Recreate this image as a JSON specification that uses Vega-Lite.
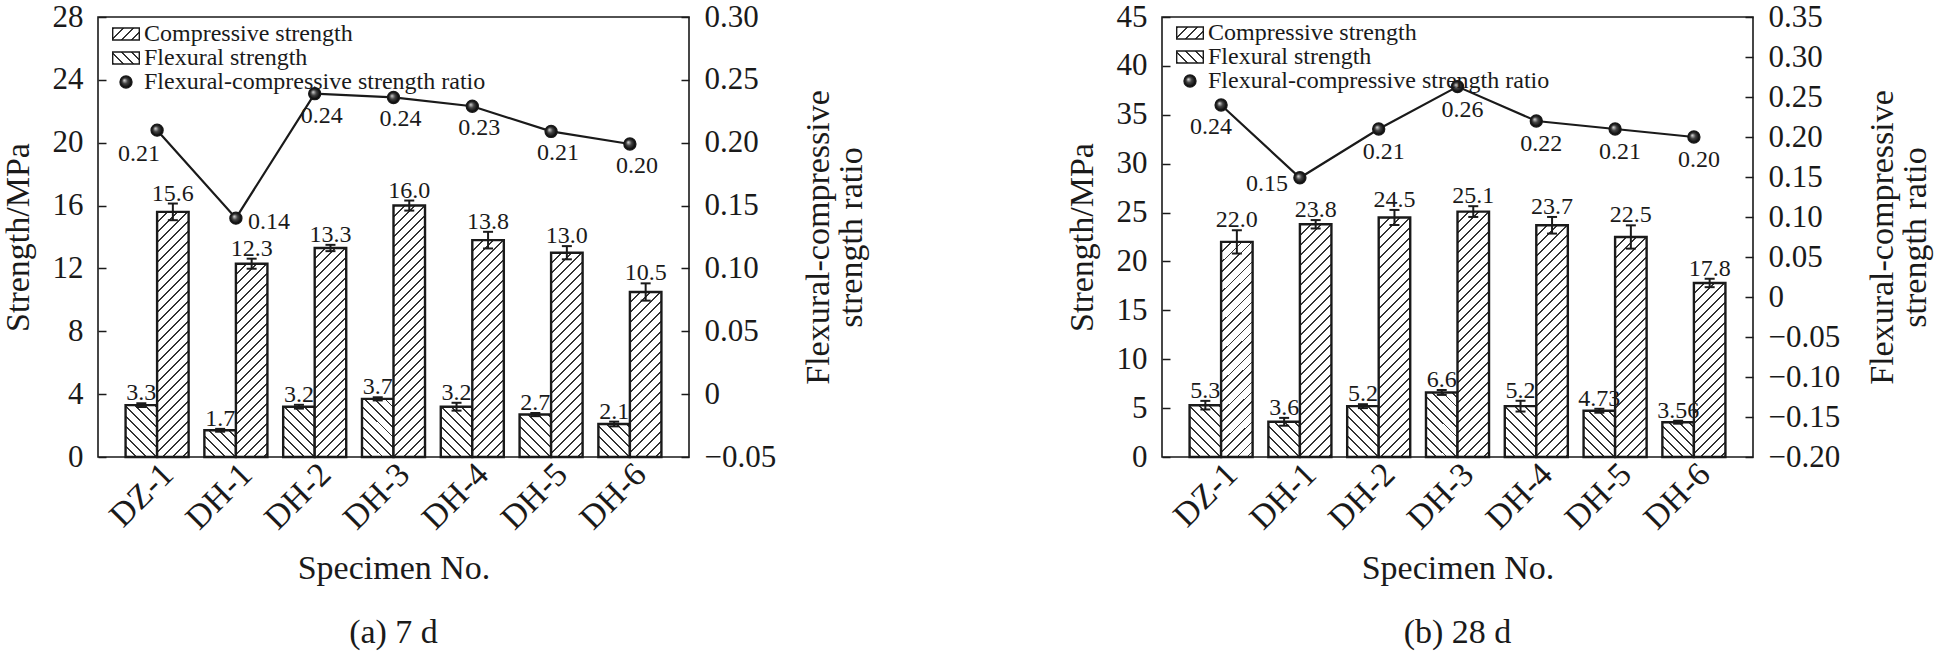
{
  "$schema": "https://vega.github.io/schema/vega-lite/v6.json",
  "padding": {"left": 0, "top": 0, "right": 0, "bottom": 0},
  "params": [
    {"name": "hatch", "value": [
      {"offset":0,"color":"#333333"},{"offset":0.0065,"color":"#333333"},{"offset":0.0065,"color":"#ffffff"},{"offset":0.0333,"color":"#ffffff"},
      {"offset":0.0333,"color":"#333333"},{"offset":0.0398,"color":"#333333"},{"offset":0.0398,"color":"#ffffff"},{"offset":0.0667,"color":"#ffffff"},
      {"offset":0.0667,"color":"#333333"},{"offset":0.0732,"color":"#333333"},{"offset":0.0732,"color":"#ffffff"},{"offset":0.1,"color":"#ffffff"},
      {"offset":0.1,"color":"#333333"},{"offset":0.1065,"color":"#333333"},{"offset":0.1065,"color":"#ffffff"},{"offset":0.1333,"color":"#ffffff"},
      {"offset":0.1333,"color":"#333333"},{"offset":0.1398,"color":"#333333"},{"offset":0.1398,"color":"#ffffff"},{"offset":0.1667,"color":"#ffffff"},
      {"offset":0.1667,"color":"#333333"},{"offset":0.1732,"color":"#333333"},{"offset":0.1732,"color":"#ffffff"},{"offset":0.2,"color":"#ffffff"},
      {"offset":0.2,"color":"#333333"},{"offset":0.2065,"color":"#333333"},{"offset":0.2065,"color":"#ffffff"},{"offset":0.2333,"color":"#ffffff"},
      {"offset":0.2333,"color":"#333333"},{"offset":0.2398,"color":"#333333"},{"offset":0.2398,"color":"#ffffff"},{"offset":0.2667,"color":"#ffffff"},
      {"offset":0.2667,"color":"#333333"},{"offset":0.2732,"color":"#333333"},{"offset":0.2732,"color":"#ffffff"},{"offset":0.3,"color":"#ffffff"},
      {"offset":0.3,"color":"#333333"},{"offset":0.3065,"color":"#333333"},{"offset":0.3065,"color":"#ffffff"},{"offset":0.3333,"color":"#ffffff"},
      {"offset":0.3333,"color":"#333333"},{"offset":0.3398,"color":"#333333"},{"offset":0.3398,"color":"#ffffff"},{"offset":0.3667,"color":"#ffffff"},
      {"offset":0.3667,"color":"#333333"},{"offset":0.3732,"color":"#333333"},{"offset":0.3732,"color":"#ffffff"},{"offset":0.4,"color":"#ffffff"},
      {"offset":0.4,"color":"#333333"},{"offset":0.4065,"color":"#333333"},{"offset":0.4065,"color":"#ffffff"},{"offset":0.4333,"color":"#ffffff"},
      {"offset":0.4333,"color":"#333333"},{"offset":0.4398,"color":"#333333"},{"offset":0.4398,"color":"#ffffff"},{"offset":0.4667,"color":"#ffffff"},
      {"offset":0.4667,"color":"#333333"},{"offset":0.4732,"color":"#333333"},{"offset":0.4732,"color":"#ffffff"},{"offset":0.5,"color":"#ffffff"},
      {"offset":0.5,"color":"#333333"},{"offset":0.5065,"color":"#333333"},{"offset":0.5065,"color":"#ffffff"},{"offset":0.5333,"color":"#ffffff"},
      {"offset":0.5333,"color":"#333333"},{"offset":0.5398,"color":"#333333"},{"offset":0.5398,"color":"#ffffff"},{"offset":0.5667,"color":"#ffffff"},
      {"offset":0.5667,"color":"#333333"},{"offset":0.5732,"color":"#333333"},{"offset":0.5732,"color":"#ffffff"},{"offset":0.6,"color":"#ffffff"},
      {"offset":0.6,"color":"#333333"},{"offset":0.6065,"color":"#333333"},{"offset":0.6065,"color":"#ffffff"},{"offset":0.6333,"color":"#ffffff"},
      {"offset":0.6333,"color":"#333333"},{"offset":0.6398,"color":"#333333"},{"offset":0.6398,"color":"#ffffff"},{"offset":0.6667,"color":"#ffffff"},
      {"offset":0.6667,"color":"#333333"},{"offset":0.6732,"color":"#333333"},{"offset":0.6732,"color":"#ffffff"},{"offset":0.7,"color":"#ffffff"},
      {"offset":0.7,"color":"#333333"},{"offset":0.7065,"color":"#333333"},{"offset":0.7065,"color":"#ffffff"},{"offset":0.7333,"color":"#ffffff"},
      {"offset":0.7333,"color":"#333333"},{"offset":0.7398,"color":"#333333"},{"offset":0.7398,"color":"#ffffff"},{"offset":0.7667,"color":"#ffffff"},
      {"offset":0.7667,"color":"#333333"},{"offset":0.7732,"color":"#333333"},{"offset":0.7732,"color":"#ffffff"},{"offset":0.8,"color":"#ffffff"},
      {"offset":0.8,"color":"#333333"},{"offset":0.8065,"color":"#333333"},{"offset":0.8065,"color":"#ffffff"},{"offset":0.8333,"color":"#ffffff"},
      {"offset":0.8333,"color":"#333333"},{"offset":0.8398,"color":"#333333"},{"offset":0.8398,"color":"#ffffff"},{"offset":0.8667,"color":"#ffffff"},
      {"offset":0.8667,"color":"#333333"},{"offset":0.8732,"color":"#333333"},{"offset":0.8732,"color":"#ffffff"},{"offset":0.9,"color":"#ffffff"},
      {"offset":0.9,"color":"#333333"},{"offset":0.9065,"color":"#333333"},{"offset":0.9065,"color":"#ffffff"},{"offset":0.9333,"color":"#ffffff"},
      {"offset":0.9333,"color":"#333333"},{"offset":0.9398,"color":"#333333"},{"offset":0.9398,"color":"#ffffff"},{"offset":0.9667,"color":"#ffffff"},
      {"offset":0.9667,"color":"#333333"},{"offset":0.9732,"color":"#333333"},{"offset":0.9732,"color":"#ffffff"},{"offset":1,"color":"#ffffff"}
    ]},
    {"name": "ball", "value": {"gradient": "radial", "x1": 0.35, "y1": 0.35, "r1": 0, "x2": 0.5, "y2": 0.5, "r2": 0.5,
      "stops": [{"offset": 0, "color": "#dddddd"}, {"offset": 0.45, "color": "#444444"}, {"offset": 1, "color": "#000000"}]}}
  ],
  "datasets": {
    "bars7": [
      {"specimen": "DZ-1", "type": "Flexural", "value": 3.3, "lo": 3.18, "hi": 3.42, "txt": "3.3"},
      {"specimen": "DZ-1", "type": "Compressive", "value": 15.6, "lo": 15.07, "hi": 16.13, "txt": "15.6"},
      {"specimen": "DH-1", "type": "Flexural", "value": 1.7, "lo": 1.61, "hi": 1.79, "txt": "1.7"},
      {"specimen": "DH-1", "type": "Compressive", "value": 12.3, "lo": 11.98, "hi": 12.62, "txt": "12.3"},
      {"specimen": "DH-2", "type": "Flexural", "value": 3.2, "lo": 3.08, "hi": 3.32, "txt": "3.2"},
      {"specimen": "DH-2", "type": "Compressive", "value": 13.3, "lo": 13.1, "hi": 13.5, "txt": "13.3"},
      {"specimen": "DH-3", "type": "Flexural", "value": 3.7, "lo": 3.6, "hi": 3.8, "txt": "3.7"},
      {"specimen": "DH-3", "type": "Compressive", "value": 16.0, "lo": 15.68, "hi": 16.32, "txt": "16.0"},
      {"specimen": "DH-4", "type": "Flexural", "value": 3.2, "lo": 2.95, "hi": 3.45, "txt": "3.2"},
      {"specimen": "DH-4", "type": "Compressive", "value": 13.8, "lo": 13.27, "hi": 14.33, "txt": "13.8"},
      {"specimen": "DH-5", "type": "Flexural", "value": 2.7, "lo": 2.6, "hi": 2.8, "txt": "2.7"},
      {"specimen": "DH-5", "type": "Compressive", "value": 13.0, "lo": 12.58, "hi": 13.42, "txt": "13.0"},
      {"specimen": "DH-6", "type": "Flexural", "value": 2.1, "lo": 1.95, "hi": 2.25, "txt": "2.1"},
      {"specimen": "DH-6", "type": "Compressive", "value": 10.5, "lo": 9.95, "hi": 11.05, "txt": "10.5"}
    ],
    "ratio7": [
      {"specimen": "DZ-1", "ratio": 0.21, "series": "Flexural-compressive strength ratio"},
      {"specimen": "DH-1", "ratio": 0.14, "series": "Flexural-compressive strength ratio"},
      {"specimen": "DH-2", "ratio": 0.239, "series": "Flexural-compressive strength ratio"},
      {"specimen": "DH-3", "ratio": 0.236, "series": "Flexural-compressive strength ratio"},
      {"specimen": "DH-4", "ratio": 0.229, "series": "Flexural-compressive strength ratio"},
      {"specimen": "DH-5", "ratio": 0.209, "series": "Flexural-compressive strength ratio"},
      {"specimen": "DH-6", "ratio": 0.199, "series": "Flexural-compressive strength ratio"}
    ],
    "bars28": [
      {"specimen": "DZ-1", "type": "Flexural", "value": 5.3, "lo": 4.86, "hi": 5.74, "txt": "5.3"},
      {"specimen": "DZ-1", "type": "Compressive", "value": 22.0, "lo": 20.81, "hi": 23.19, "txt": "22.0"},
      {"specimen": "DH-1", "type": "Flexural", "value": 3.6, "lo": 3.2, "hi": 4.0, "txt": "3.6"},
      {"specimen": "DH-1", "type": "Compressive", "value": 23.8, "lo": 23.37, "hi": 24.23, "txt": "23.8"},
      {"specimen": "DH-2", "type": "Flexural", "value": 5.2, "lo": 5.0, "hi": 5.4, "txt": "5.2"},
      {"specimen": "DH-2", "type": "Compressive", "value": 24.5, "lo": 23.73, "hi": 25.27, "txt": "24.5"},
      {"specimen": "DH-3", "type": "Flexural", "value": 6.6, "lo": 6.35, "hi": 6.85, "txt": "6.6"},
      {"specimen": "DH-3", "type": "Compressive", "value": 25.1, "lo": 24.55, "hi": 25.65, "txt": "25.1"},
      {"specimen": "DH-4", "type": "Flexural", "value": 5.2, "lo": 4.65, "hi": 5.75, "txt": "5.2"},
      {"specimen": "DH-4", "type": "Compressive", "value": 23.7, "lo": 22.85, "hi": 24.55, "txt": "23.7"},
      {"specimen": "DH-5", "type": "Flexural", "value": 4.73, "lo": 4.53, "hi": 4.93, "txt": "4.73"},
      {"specimen": "DH-5", "type": "Compressive", "value": 22.5, "lo": 21.31, "hi": 23.69, "txt": "22.5"},
      {"specimen": "DH-6", "type": "Flexural", "value": 3.56, "lo": 3.41, "hi": 3.71, "txt": "3.56"},
      {"specimen": "DH-6", "type": "Compressive", "value": 17.8, "lo": 17.37, "hi": 18.23, "txt": "17.8"}
    ],
    "ratio28": [
      {"specimen": "DZ-1", "ratio": 0.24, "series": "Flexural-compressive strength ratio"},
      {"specimen": "DH-1", "ratio": 0.149, "series": "Flexural-compressive strength ratio"},
      {"specimen": "DH-2", "ratio": 0.21, "series": "Flexural-compressive strength ratio"},
      {"specimen": "DH-3", "ratio": 0.263, "series": "Flexural-compressive strength ratio"},
      {"specimen": "DH-4", "ratio": 0.22, "series": "Flexural-compressive strength ratio"},
      {"specimen": "DH-5", "ratio": 0.21, "series": "Flexural-compressive strength ratio"},
      {"specimen": "DH-6", "ratio": 0.20, "series": "Flexural-compressive strength ratio"}
    ]
  },
  "bounds": "flush",
  "spacing": 473,
  "resolve": {"scale": {"shape": "independent", "fill": "independent", "stroke": "independent"}, "legend": {"shape": "independent", "fill": "independent", "stroke": "independent"}},
  "hconcat": [
    {
      "width": 591,
      "height": 440,
      "title": {"text": "(a) 7 d", "orient": "bottom", "anchor": "middle", "offset": 30},
      "resolve": {"scale": {"y": "independent"}},
      "layer": [
        {
          "data": {"name": "bars7"},
          "encoding": {
            "x": {"field": "specimen", "type": "nominal", "sort": ["DZ-1","DH-1","DH-2","DH-3","DH-4","DH-5","DH-6"],
              "scale": {"paddingInner": 0.2, "paddingOuter": 0.35},
              "axis": {"title": "Specimen No.", "labelAngle": -45, "labelAlign": "right", "labelBaseline": "middle", "labelOffset": 11, "labelPadding": 12, "ticks": false, "labelFontSize": 34, "titleFontSize": 34, "titlePadding": 16}},
            "xOffset": {"field": "type", "type": "nominal", "sort": ["Flexural", "Compressive"], "scale": {"paddingInner": 0, "paddingOuter": 0}}
          },
          "layer": [
            {
              "mark": {"type": "bar", "stroke": "#1a1a1a", "strokeWidth": 2.4, "fillOpacity": 1,
                "fill": {"expr": "datum.type == 'Compressive' ? {gradient: 'linear', x1: 0, y1: 0, x2: 9450 / (992.25 + pow(15.714 * datum.value, 2)), y2: 4714.2 * datum.value / (992.25 + pow(15.714 * datum.value, 2)), stops: hatch} : {gradient: 'linear', x1: 0, y1: 1, x2: 9450 / (992.25 + pow(15.714 * datum.value, 2)), y2: 1 - 4714.2 * datum.value / (992.25 + pow(15.714 * datum.value, 2)), stops: hatch}"}},
              "encoding": {
                "y": {"field": "value", "type": "quantitative", "title": "Strength/MPa",
                  "scale": {"domain": [0, 28], "nice": false, "zero": true},
                  "axis": {"title": "Strength/MPa", "values": [0,4,8,12,16,20,24,28], "tickSize": -8, "labelPadding": 23, "labelFontSize": 31, "titleFontSize": 34, "titlePadding": 17}}
              }
            },
            {
              "mark": {"type": "rule", "strokeWidth": 2, "color": "#1a1a1a"},
              "encoding": {
                "y": {"field": "lo", "type": "quantitative", "title": "Strength/MPa"},
                "y2": {"field": "hi"}
              }
            },
            {
              "mark": {"type": "tick", "size": 10, "thickness": 2, "color": "#1a1a1a", "opacity": 1},
              "encoding": {"y": {"field": "lo", "type": "quantitative", "title": "Strength/MPa"}}
            },
            {
              "mark": {"type": "tick", "size": 10, "thickness": 2, "color": "#1a1a1a", "opacity": 1},
              "encoding": {"y": {"field": "hi", "type": "quantitative", "title": "Strength/MPa"}}
            },
            {
              "mark": {"type": "text", "baseline": "alphabetic", "dy": -3, "fontSize": 24, "color": "#1a1a1a"},
              "encoding": {
                "y": {"field": "hi", "type": "quantitative", "title": "Strength/MPa"},
                "text": {"field": "txt"}
              }
            }
          ]
        },
        {
          "data": {"name": "ratio7"},
          "encoding": {
            "x": {"field": "specimen", "type": "nominal", "sort": ["DZ-1","DH-1","DH-2","DH-3","DH-4","DH-5","DH-6"],
              "scale": {"paddingInner": 0.2, "paddingOuter": 0.35},
              "axis": {"title": "Specimen No.", "labelAngle": -45, "labelAlign": "right", "labelBaseline": "middle", "labelOffset": 11, "labelPadding": 12, "ticks": false, "labelFontSize": 34, "titleFontSize": 34, "titlePadding": 16}},
            "y": {"field": "ratio", "type": "quantitative", "title": "Flexural-compressive strength ratio",
              "scale": {"domain": [-0.05, 0.3], "nice": false, "zero": false},
              "axis": {"orient": "right", "values": [-0.05, 0, 0.05, 0.1, 0.15, 0.2, 0.25, 0.3], "labelExpr": "datum.value == 0 ? '0' : format(datum.value, '.2f')",
                "tickSize": -8, "labelPadding": 23, "labelFontSize": 31, "title": ["Flexural-compressive", "strength ratio"], "titleAngle": -90, "titleBaseline": "top", "titleFontSize": 34, "titleLineHeight": 33, "titlePadding": -7}}
          },
          "layer": [
            {"mark": {"type": "line", "color": "#1a1a1a", "strokeWidth": 2.2}},
            {
              "mark": {"type": "point", "filled": true, "size": 361, "strokeWidth": 1.4, "opacity": 1},
              "encoding": {
                "fill": {"field": "series", "type": "nominal",
                  "scale": {"domain": ["Compressive strength", "Flexural strength", "Flexural-compressive strength ratio"],
                    "range": [{"expr": "{gradient: 'linear', x1: 0, y1: 0, x2: 9.37, y2: 4.227, stops: hatch}"}, {"expr": "{gradient: 'linear', x1: 0, y1: 1, x2: 9.37, y2: -3.227, stops: hatch}"}, {"expr": "ball"}]},
                  "legend": {"title": null, "orient": "none", "legendX": 16, "legendY": 5, "padding": 0, "labelFontSize": 24, "labelLimit": 0, "labelColor": "#1a1a1a", "symbolSize": 361, "rowPadding": 0, "labelOffset": 6}},
                "stroke": {"field": "series", "type": "nominal",
                  "scale": {"domain": ["Compressive strength", "Flexural strength", "Flexural-compressive strength ratio"], "range": ["#1a1a1a", "#1a1a1a", "#1a1a1a"]},
                  "legend": {"title": null, "orient": "none", "legendX": 16, "legendY": 5, "padding": 0, "labelFontSize": 24, "labelLimit": 0, "labelColor": "#1a1a1a", "symbolSize": 361, "rowPadding": 0, "labelOffset": 6}},
                "shape": {"field": "series", "type": "nominal",
                  "scale": {"domain": ["Compressive strength", "Flexural strength", "Flexural-compressive strength ratio"],
                    "range": ["M-1.4,-0.63H1.4V0.63H-1.4Z", "M-1.4,-0.63H1.4V0.63H-1.4Z", "M-0.63,0A0.63,0.63 0 1,0 0.63,0A0.63,0.63 0 1,0 -0.63,0Z"]},
                  "legend": {"title": null, "orient": "none", "legendX": 16, "legendY": 5, "padding": 0, "labelFontSize": 24, "labelLimit": 0, "labelColor": "#1a1a1a", "symbolSize": 361, "rowPadding": 0, "labelOffset": 6}}
              }
            },
            {
              "transform": [{"filter": {"field": "specimen", "oneOf": ["DH-2", "DH-3", "DH-4", "DH-5", "DH-6"]}}],
              "mark": {"type": "text", "dx": 7, "dy": 22, "fontSize": 24, "color": "#1a1a1a"},
              "encoding": {"text": {"field": "ratio", "format": ".2f"}}
            },
            {
              "transform": [{"filter": {"field": "specimen", "equal": "DZ-1"}}],
              "mark": {"type": "text", "dx": -18, "dy": 24, "fontSize": 24, "color": "#1a1a1a"},
              "encoding": {"text": {"field": "ratio", "format": ".2f"}}
            },
            {
              "transform": [{"filter": {"field": "specimen", "equal": "DH-1"}}],
              "mark": {"type": "text", "dx": 33, "dy": 4, "fontSize": 24, "color": "#1a1a1a"},
              "encoding": {"text": {"field": "ratio", "format": ".2f"}}
            }
          ]
        }
      ]
    },
    {
      "width": 591,
      "height": 440,
      "title": {"text": "(b) 28 d", "orient": "bottom", "anchor": "middle", "offset": 30},
      "resolve": {"scale": {"y": "independent"}},
      "layer": [
        {
          "data": {"name": "bars28"},
          "encoding": {
            "x": {"field": "specimen", "type": "nominal", "sort": ["DZ-1","DH-1","DH-2","DH-3","DH-4","DH-5","DH-6"],
              "scale": {"paddingInner": 0.2, "paddingOuter": 0.35},
              "axis": {"title": "Specimen No.", "labelAngle": -45, "labelAlign": "right", "labelBaseline": "middle", "labelOffset": 11, "labelPadding": 12, "ticks": false, "labelFontSize": 34, "titleFontSize": 34, "titlePadding": 16}},
            "xOffset": {"field": "type", "type": "nominal", "sort": ["Flexural", "Compressive"], "scale": {"paddingInner": 0, "paddingOuter": 0}}
          },
          "layer": [
            {
              "mark": {"type": "bar", "stroke": "#1a1a1a", "strokeWidth": 2.4, "fillOpacity": 1,
                "fill": {"expr": "datum.type == 'Compressive' ? {gradient: 'linear', x1: 0, y1: 0, x2: 9450 / (992.25 + pow(9.778 * datum.value, 2)), y2: 2933.4 * datum.value / (992.25 + pow(9.778 * datum.value, 2)), stops: hatch} : {gradient: 'linear', x1: 0, y1: 1, x2: 9450 / (992.25 + pow(9.778 * datum.value, 2)), y2: 1 - 2933.4 * datum.value / (992.25 + pow(9.778 * datum.value, 2)), stops: hatch}"}},
              "encoding": {
                "y": {"field": "value", "type": "quantitative", "title": "Strength/MPa",
                  "scale": {"domain": [0, 45], "nice": false, "zero": true},
                  "axis": {"title": "Strength/MPa", "values": [0,5,10,15,20,25,30,35,40,45], "tickSize": -8, "labelPadding": 23, "labelFontSize": 31, "titleFontSize": 34, "titlePadding": 17}}
              }
            },
            {
              "mark": {"type": "rule", "strokeWidth": 2, "color": "#1a1a1a"},
              "encoding": {
                "y": {"field": "lo", "type": "quantitative", "title": "Strength/MPa"},
                "y2": {"field": "hi"}
              }
            },
            {
              "mark": {"type": "tick", "size": 10, "thickness": 2, "color": "#1a1a1a", "opacity": 1},
              "encoding": {"y": {"field": "lo", "type": "quantitative", "title": "Strength/MPa"}}
            },
            {
              "mark": {"type": "tick", "size": 10, "thickness": 2, "color": "#1a1a1a", "opacity": 1},
              "encoding": {"y": {"field": "hi", "type": "quantitative", "title": "Strength/MPa"}}
            },
            {
              "mark": {"type": "text", "baseline": "alphabetic", "dy": -3, "fontSize": 24, "color": "#1a1a1a"},
              "encoding": {
                "y": {"field": "hi", "type": "quantitative", "title": "Strength/MPa"},
                "text": {"field": "txt"}
              }
            }
          ]
        },
        {
          "data": {"name": "ratio28"},
          "encoding": {
            "x": {"field": "specimen", "type": "nominal", "sort": ["DZ-1","DH-1","DH-2","DH-3","DH-4","DH-5","DH-6"],
              "scale": {"paddingInner": 0.2, "paddingOuter": 0.35},
              "axis": {"title": "Specimen No.", "labelAngle": -45, "labelAlign": "right", "labelBaseline": "middle", "labelOffset": 11, "labelPadding": 12, "ticks": false, "labelFontSize": 34, "titleFontSize": 34, "titlePadding": 16}},
            "y": {"field": "ratio", "type": "quantitative", "title": "Flexural-compressive strength ratio",
              "scale": {"domain": [-0.2, 0.35], "nice": false, "zero": false},
              "axis": {"orient": "right", "values": [-0.2, -0.15, -0.1, -0.05, 0, 0.05, 0.1, 0.15, 0.2, 0.25, 0.3, 0.35], "labelExpr": "datum.value == 0 ? '0' : format(datum.value, '.2f')",
                "tickSize": -8, "labelPadding": 23, "labelFontSize": 31, "title": ["Flexural-compressive", "strength ratio"], "titleAngle": -90, "titleBaseline": "top", "titleFontSize": 34, "titleLineHeight": 33, "titlePadding": -7}}
          },
          "layer": [
            {"mark": {"type": "line", "color": "#1a1a1a", "strokeWidth": 2.2}},
            {
              "mark": {"type": "point", "filled": true, "size": 361, "strokeWidth": 1.4, "opacity": 1},
              "encoding": {
                "fill": {"field": "series", "type": "nominal",
                  "scale": {"domain": ["Compressive strength", "Flexural strength", "Flexural-compressive strength ratio"],
                    "range": [{"expr": "{gradient: 'linear', x1: 0, y1: 0, x2: 9.37, y2: 4.227, stops: hatch}"}, {"expr": "{gradient: 'linear', x1: 0, y1: 1, x2: 9.37, y2: -3.227, stops: hatch}"}, {"expr": "ball"}]},
                  "legend": {"title": null, "orient": "none", "legendX": 16, "legendY": 4, "padding": 0, "labelFontSize": 24, "labelLimit": 0, "labelColor": "#1a1a1a", "symbolSize": 361, "rowPadding": 0, "labelOffset": 6}},
                "stroke": {"field": "series", "type": "nominal",
                  "scale": {"domain": ["Compressive strength", "Flexural strength", "Flexural-compressive strength ratio"], "range": ["#1a1a1a", "#1a1a1a", "#1a1a1a"]},
                  "legend": {"title": null, "orient": "none", "legendX": 16, "legendY": 4, "padding": 0, "labelFontSize": 24, "labelLimit": 0, "labelColor": "#1a1a1a", "symbolSize": 361, "rowPadding": 0, "labelOffset": 6}},
                "shape": {"field": "series", "type": "nominal",
                  "scale": {"domain": ["Compressive strength", "Flexural strength", "Flexural-compressive strength ratio"],
                    "range": ["M-1.4,-0.63H1.4V0.63H-1.4Z", "M-1.4,-0.63H1.4V0.63H-1.4Z", "M-0.63,0A0.63,0.63 0 1,0 0.63,0A0.63,0.63 0 1,0 -0.63,0Z"]},
                  "legend": {"title": null, "orient": "none", "legendX": 16, "legendY": 4, "padding": 0, "labelFontSize": 24, "labelLimit": 0, "labelColor": "#1a1a1a", "symbolSize": 361, "rowPadding": 0, "labelOffset": 6}}
              }
            },
            {
              "transform": [{"filter": {"field": "specimen", "oneOf": ["DH-2", "DH-3", "DH-4", "DH-5", "DH-6"]}}],
              "mark": {"type": "text", "dx": 5, "dy": 23, "fontSize": 24, "color": "#1a1a1a"},
              "encoding": {"text": {"field": "ratio", "format": ".2f"}}
            },
            {
              "transform": [{"filter": {"field": "specimen", "equal": "DZ-1"}}],
              "mark": {"type": "text", "dx": -10, "dy": 22, "fontSize": 24, "color": "#1a1a1a"},
              "encoding": {"text": {"field": "ratio", "format": ".2f"}}
            },
            {
              "transform": [{"filter": {"field": "specimen", "equal": "DH-1"}}],
              "mark": {"type": "text", "dx": -33, "dy": 6, "fontSize": 24, "color": "#1a1a1a"},
              "encoding": {"text": {"field": "ratio", "format": ".2f"}}
            }
          ]
        }
      ]
    }
  ],
  "config": {
    "font": "Liberation Serif",
    "background": "white",
    "view": {"stroke": "#1a1a1a", "strokeWidth": 1.6},
    "axis": {"labelFont": "Liberation Serif", "titleFont": "Liberation Serif", "labelColor": "#1a1a1a", "titleColor": "#1a1a1a", "titleFontWeight": "normal",
      "domain": false, "grid": false, "tickColor": "#1a1a1a", "tickWidth": 1.5, "labelOverlap": false, "labelFlush": false, "labelBound": false, "titleFontSize": 34},
    "axisX": {"labelFontSize": 34},
    "axisY": {"labelFontSize": 31},
    "title": {"font": "Liberation Serif", "fontSize": 34, "fontWeight": "normal", "color": "#1a1a1a"},
    "legend": {"labelFont": "Liberation Serif", "labelFontSize": 24, "labelLimit": 0, "rowPadding": 0, "symbolStrokeWidth": 1.4},
    "text": {"font": "Liberation Serif"}
  }
}
